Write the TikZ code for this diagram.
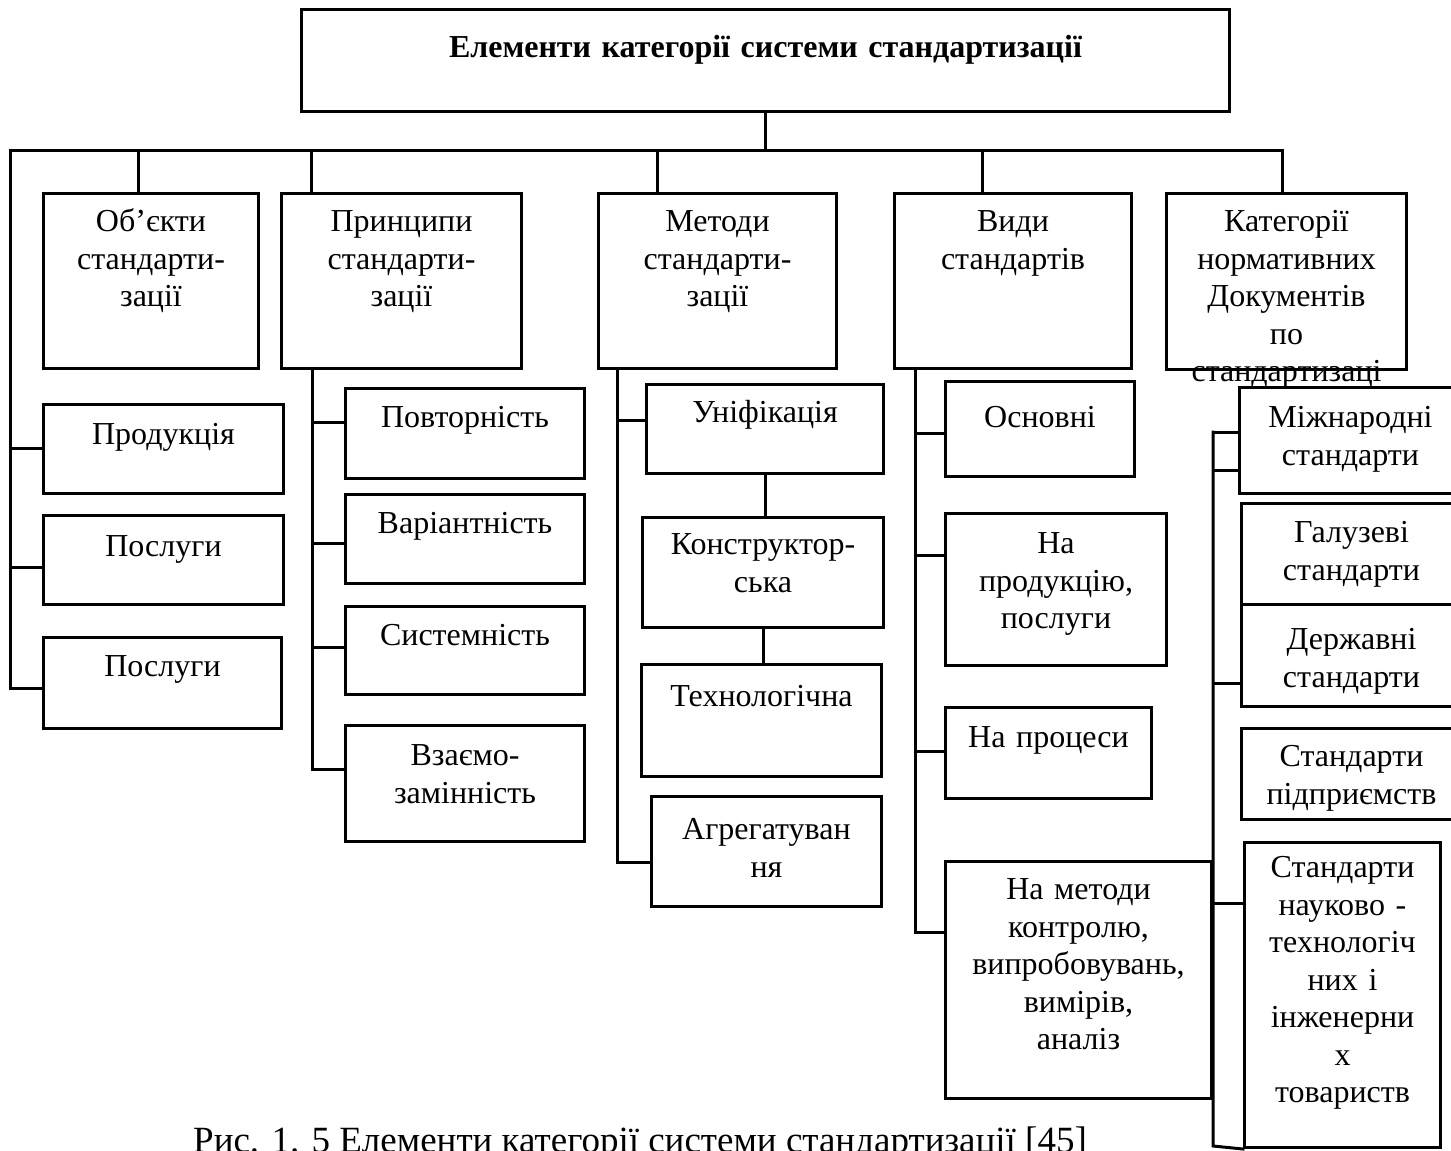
\documentclass[tikz,border=0pt]{standalone}
\usepackage{fontspec}
\setmainfont{Liberation Serif}

\tikzset{
  blk/.style={draw, line width=3pt, anchor=north west, inner sep=0pt,
              align=center, font=\fontsize{32}{37.5}\selectfont},
  sz/.style n args={3}{text width=#1pt, text height=#2pt, text depth=#3pt},
  con/.style={line width=3pt, line cap=rect},
}

\begin{document}
\begin{tikzpicture}[x=1pt, y=-1pt]
  \useasboundingbox (0,0) rectangle (1451,1151);
  \clip (0,0) rectangle (1451,1151);

  % title
  \node[blk, sz={928}{48}{54}, font=\fontsize{32}{38}\selectfont\bfseries]
       (title) at (300,8) {Елементи категорії системи стандартизації};

  % first row
  \node[blk, sz={215}{38}{137}] (obj)  at (42,192)   {Об’єкти\\стандарти-\\зації};
  \node[blk, sz={240}{38}{137}] (prin) at (280,192)  {Принципи\\стандарти-\\зації};
  \node[blk, sz={238}{38}{137}] (meth) at (597,192)  {Методи\\стандарти-\\зації};
  \node[blk, sz={237}{38}{137}] (vidy) at (893,192)  {Види\\стандартів};
  \node[blk, sz={240}{38}{138}] (kat)  at (1165,192) {Категорії\\нормативних\\Документів\\по\\стандартизаці};

  % objects
  \node[blk, sz={240}{40}{49}] (prod)  at (42,403) {Продукція};
  \node[blk, sz={240}{41}{48}] (posl)  at (42,514) {Послуги};
  \node[blk, sz={238}{39}{52}] (poslb) at (42,636) {Послуги};

  % principles
  \node[blk, sz={239}{39}{51}] (povt) at (344,387) {Повторність};
  \node[blk, sz={239}{39}{50}] (var)  at (344,493) {Варіантність};
  \node[blk, sz={239}{39}{49}] (sys)  at (344,605) {Системність};
  \node[blk, sz={239}{40}{76}] (vz)   at (344,724) {Взаємо-\\замінність};

  % methods
  \node[blk, sz={237}{38}{51}] (unif) at (645,383) {Уніфікація};
  \node[blk, sz={241}{37}{73}] (kons) at (641,516) {Конструктор-\\ська};
  \node[blk, sz={240}{42}{70}] (tech) at (640,663) {Технологічна};
  \node[blk, sz={230}{43}{67}] (agr)  at (650,795) {Агрегатуван\\ня};

  % kinds
  \node[blk, sz={189}{46}{49}]  (osn)  at (944,380) {Основні};
  \node[blk, sz={221}{40}{112}] (napr) at (944,512) {На\\продукцію,\\послуги};
  \node[blk, sz={206}{40}{51}]  (proc) at (944,706) {На процеси};
  \node[blk, sz={266}{38}{199}] (metk) at (944,860) {На методи\\контролю,\\випробовувань,\\вимірів,\\аналіз};

  % documents
  \node[blk, sz={222}{40}{66}]  (mizh)  at (1238,386) {Міжнародні\\стандарти};
  \node[blk, sz={220}{39}{62}]  (haluz) at (1240,502) {Галузеві\\стандарти};
  \node[blk, sz={220}{45}{57}]  (derzh) at (1240,603) {Державні\\стандарти};
  \node[blk, sz={220}{38}{53}]  (pidpr) at (1240,727) {Стандарти\\підприємств};
  \node[blk, sz={196}{35}{270}] (nauk)  at (1243,841) {Стандарти\\науково -\\технологіч\\них і\\інженерни\\х\\товариств};

  % main bus
  \coordinate (busL) at (10,150);
  \coordinate (busR) at (1282,150);
  \draw[con] (title.south) -- (title.south |- busL);
  \foreach \n/\x in {obj/138, prin/311, meth/657, vidy/982, kat/1282}{
    \coordinate (d\n) at (\x,150);
    \draw[con] (d\n) -- (d\n |- \n.north);
  }

  % column buses
  \foreach \n/\y in {prod/448, posl/567, poslb/688}{
    \coordinate (j\n) at (10,\y);
    \draw[con] (j\n) -- (j\n -| \n.west);
  }
  \draw[con] (busR) -- (busL) -- (jposlb);

  \foreach \n/\y in {povt/422, var/543, sys/647, vz/769}{
    \coordinate (j\n) at (312,\y);
    \draw[con] (j\n) -- (j\n -| \n.west);
  }
  \draw[con] (jpovt |- prin.south) -- (jvz);

  \foreach \n/\y in {unif/420, agr/862}{
    \coordinate (j\n) at (617,\y);
    \draw[con] (j\n) -- (j\n -| \n.west);
  }
  \draw[con] (junif |- meth.south) -- (jagr);
  \draw[con] (unif.south) -- (unif.south |- kons.north);
  \draw[con] (kons.south) -- (kons.south |- tech.north);

  \foreach \n/\y in {osn/433, napr/555, proc/751, metk/932}{
    \coordinate (j\n) at (915,\y);
    \draw[con] (j\n) -- (j\n -| \n.west);
  }
  \draw[con] (josn |- vidy.south) -- (jmetk);

  \foreach \k/\n/\y in {a/mizh/432, b/mizh/470, c/derzh/683, d/nauk/903}{
    \coordinate (k\k) at (1213,\y);
    \draw[con] (k\k) -- (k\k -| \n.west);
  }
  \coordinate (kbot) at (1213,1146);
  \draw[con] (ka) -- (kbot) -- (nauk.south west);

  % caption
  \node[anchor=base west, inner sep=0pt, font=\fontsize{37}{44}\selectfont]
       (cap) at (193,1152) {Рис. 1. 5 Елементи категорії системи стандартизації [45]};
\end{tikzpicture}
\end{document}
